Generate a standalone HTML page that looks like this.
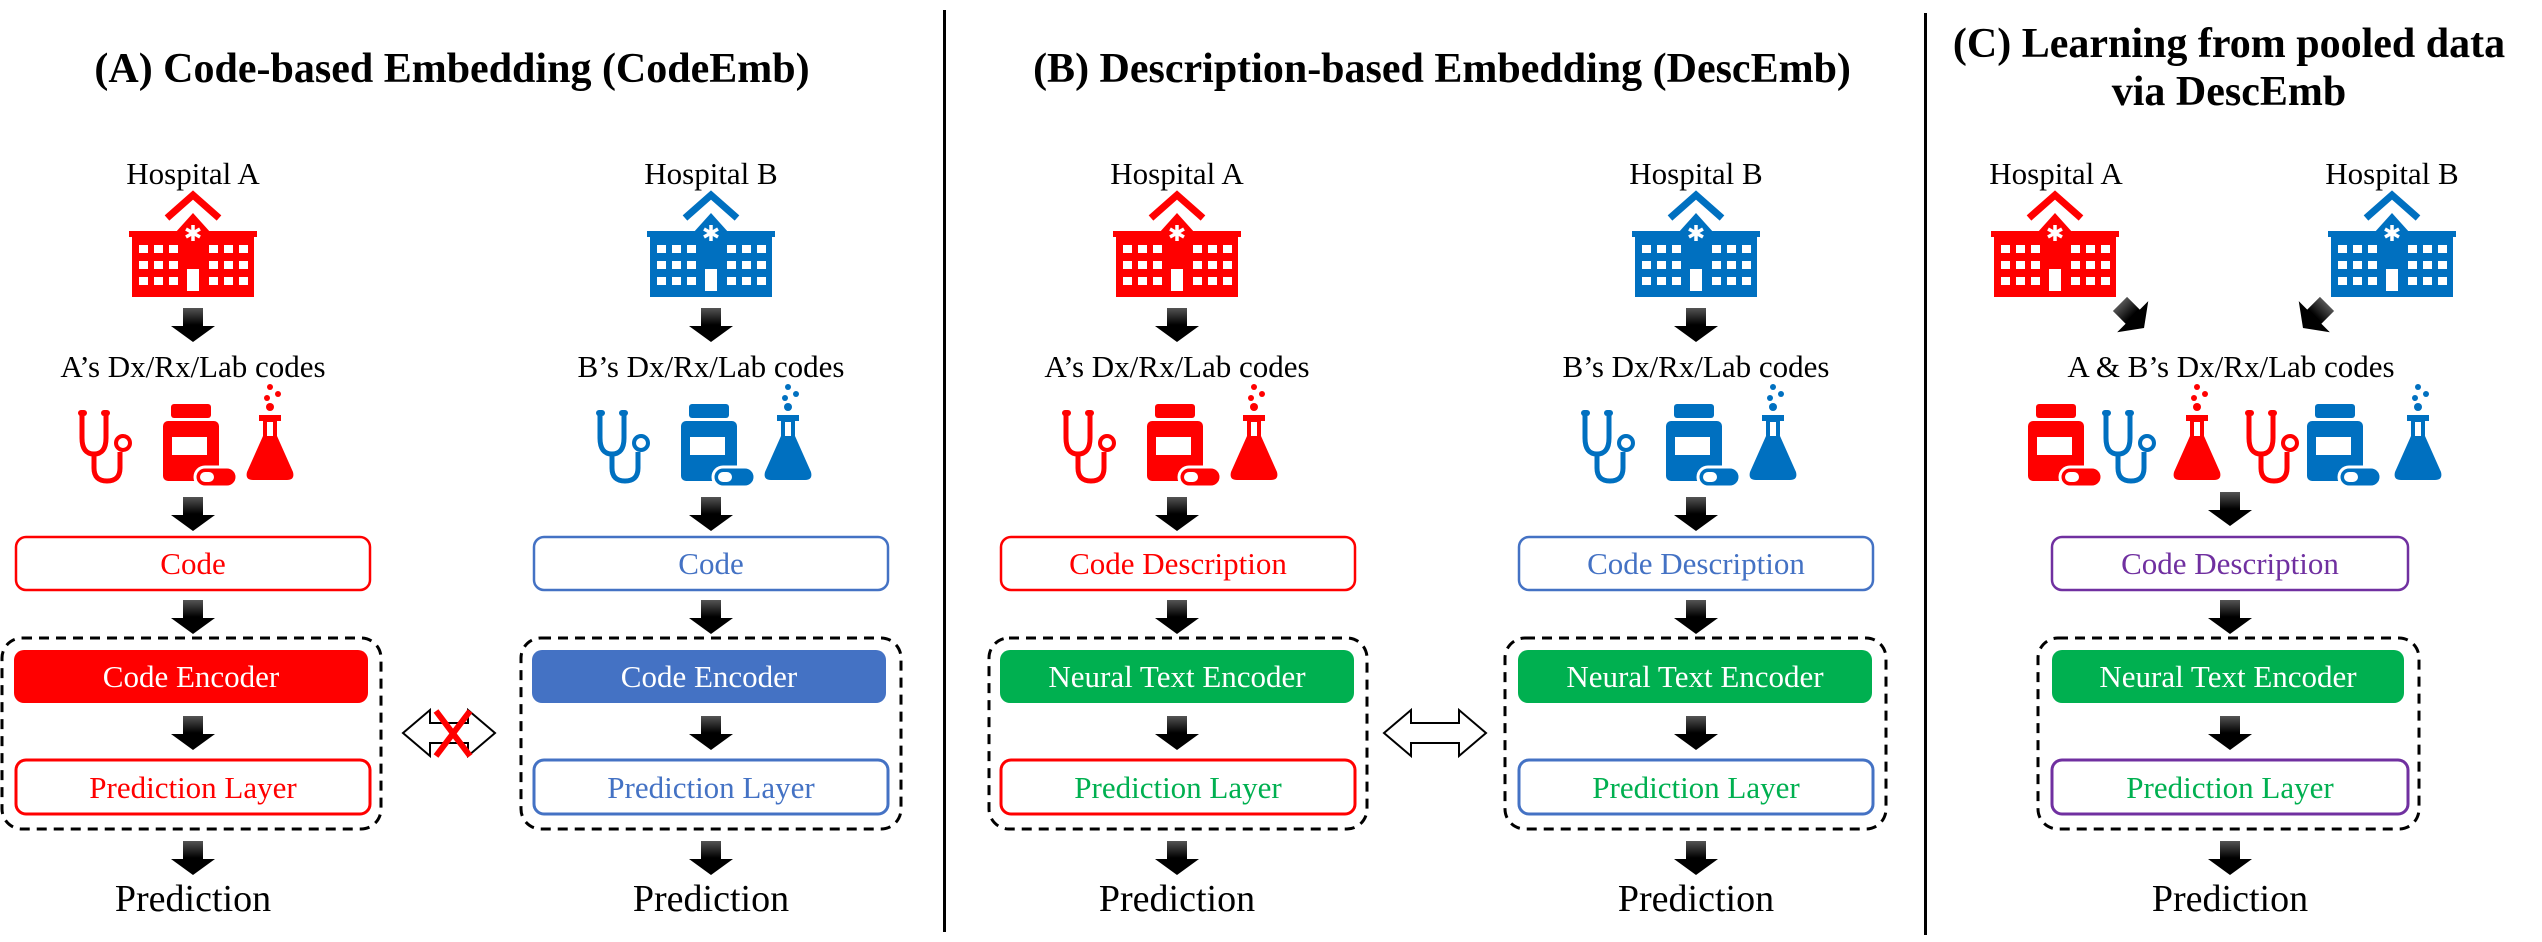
<!DOCTYPE html>
<html><head><meta charset="utf-8"><style>
html,body{margin:0;padding:0;background:#fff;}
svg{display:block;font-family:"Liberation Serif",serif;}
text{font-family:"Liberation Serif",serif;}
</style></head><body>
<svg width="2542" height="942" viewBox="0 0 2542 942" xmlns="http://www.w3.org/2000/svg">
<defs>
<linearGradient id="ag" x1="0" y1="0" x2="0" y2="1"><stop offset="0" stop-color="#555"/><stop offset="0.5" stop-color="#000"/><stop offset="1" stop-color="#000"/></linearGradient>
<g id="arr"><polygon points="-10,0 10,0 10,18 22,18 0,34 -22,18 -10,18" fill="url(#ag)"/></g>
<g id="hosp">
<polyline points="38,25 64,2 90,25" fill="none" stroke="currentColor" stroke-width="7"/>
<polygon points="46,40 64,20 82,40" fill="currentColor"/>
<rect x="0" y="38" width="128" height="6" fill="currentColor"/>
<rect x="3" y="43" width="122" height="61" fill="currentColor"/>
<g fill="#fff">
<rect x="10" y="52" width="9" height="8"/><rect x="25" y="52" width="9" height="8"/><rect x="40" y="52" width="9" height="8"/>
<rect x="80" y="52" width="9" height="8"/><rect x="95" y="52" width="9" height="8"/><rect x="110" y="52" width="9" height="8"/>
<rect x="10" y="68" width="9" height="8"/><rect x="25" y="68" width="9" height="8"/><rect x="40" y="68" width="9" height="8"/>
<rect x="80" y="68" width="9" height="8"/><rect x="95" y="68" width="9" height="8"/><rect x="110" y="68" width="9" height="8"/>
<rect x="10" y="84" width="9" height="8"/><rect x="25" y="84" width="9" height="8"/><rect x="40" y="84" width="9" height="8"/>
<rect x="80" y="84" width="9" height="8"/><rect x="95" y="84" width="9" height="8"/><rect x="110" y="84" width="9" height="8"/>
<rect x="58" y="76" width="12" height="22"/>
</g>
<g stroke="#fff" stroke-width="3.5"><line x1="64" y1="32" x2="64" y2="48"/><line x1="57" y1="36" x2="71" y2="44"/><line x1="57" y1="44" x2="71" y2="36"/></g>
</g>
<g id="steth">
<path d="M9,6 V30 Q9,46 21,46 Q33,46 33,30 V6" fill="none" stroke="currentColor" stroke-width="5"/>
<rect x="5" y="2" width="9" height="6" rx="3" fill="currentColor"/><rect x="28" y="2" width="9" height="6" rx="3" fill="currentColor"/>
<path d="M21,46 V60 Q21,73 34,73 Q47,73 47,60 V44" fill="none" stroke="currentColor" stroke-width="5"/>
<circle cx="50" cy="35" r="7" fill="none" stroke="currentColor" stroke-width="4"/>
</g>
<g id="bottle">
<rect x="8" y="0" width="40" height="14" rx="3" fill="currentColor"/>
<rect x="0" y="17" width="56" height="60" rx="5" fill="currentColor"/>
<rect x="9" y="33" width="35" height="18" fill="#fff"/>
<rect x="32" y="63" width="42" height="20" rx="10" fill="currentColor" stroke="#fff" stroke-width="3"/>
<rect x="37" y="68" width="14" height="10" rx="5" fill="#fff"/>
</g>
<g id="flask">
<circle cx="23" cy="3" r="3" fill="currentColor"/><circle cx="31" cy="10" r="3" fill="currentColor"/><circle cx="20" cy="14" r="3" fill="currentColor"/><circle cx="23" cy="23" r="4" fill="currentColor"/>
<path d="M12,31 H34 V37 H30 V52 L46,88 Q48,96 40,96 H6 Q-2,96 0,88 L16,52 V37 H12 Z" fill="currentColor"/>
<rect x="20" y="38" width="6" height="14" fill="#fff"/>
</g>
</defs>

<rect x="943" y="10" width="3" height="922" fill="#000"/>
<rect x="1924" y="13" width="3" height="922" fill="#000"/>

<g font-family="Liberation Serif, serif" font-weight="bold" font-size="42" text-anchor="middle" fill="#000">
<text x="452" y="82">(A) Code-based Embedding (CodeEmb)</text>
<text x="1442" y="82">(B) Description-based Embedding (DescEmb)</text>
<text x="2229" y="57">(C) Learning from pooled data</text>
<text x="2229" y="105">via DescEmb</text>
</g>

<g font-family="Liberation Serif, serif" font-size="31" text-anchor="middle" fill="#000">
<text x="193" y="184">Hospital A</text>
<text x="711" y="184">Hospital B</text>
<text x="1177" y="184">Hospital A</text>
<text x="1696" y="184">Hospital B</text>
<text x="2056" y="184">Hospital A</text>
<text x="2392" y="184">Hospital B</text>
<text x="193" y="377">A’s Dx/Rx/Lab codes</text>
<text x="711" y="377">B’s Dx/Rx/Lab codes</text>
<text x="1177" y="377">A’s Dx/Rx/Lab codes</text>
<text x="1696" y="377">B’s Dx/Rx/Lab codes</text>
<text x="2231" y="377">A &amp; B’s Dx/Rx/Lab codes</text>
</g>
<g font-family="Liberation Serif, serif" font-size="38" text-anchor="middle" fill="#000">
<text x="193" y="911">Prediction</text>
<text x="711" y="911">Prediction</text>
<text x="1177" y="911">Prediction</text>
<text x="1696" y="911">Prediction</text>
<text x="2230" y="911">Prediction</text>
</g>

<use href="#hosp" x="129" y="193" color="#FF0000"/>
<use href="#hosp" x="647" y="193" color="#0070C0"/>
<use href="#hosp" x="1113" y="193" color="#FF0000"/>
<use href="#hosp" x="1632" y="193" color="#0070C0"/>
<use href="#hosp" x="1991" y="193" color="#FF0000"/>
<use href="#hosp" x="2328" y="193" color="#0070C0"/>

<use href="#steth" x="73" y="408" color="#FF0000"/><use href="#bottle" x="163" y="404" color="#FF0000"/><use href="#flask" x="247" y="384" color="#FF0000"/>
<use href="#steth" x="591" y="408" color="#0070C0"/><use href="#bottle" x="681" y="404" color="#0070C0"/><use href="#flask" x="765" y="384" color="#0070C0"/>
<use href="#steth" x="1057" y="408" color="#FF0000"/><use href="#bottle" x="1147" y="404" color="#FF0000"/><use href="#flask" x="1231" y="384" color="#FF0000"/>
<use href="#steth" x="1576" y="408" color="#0070C0"/><use href="#bottle" x="1666" y="404" color="#0070C0"/><use href="#flask" x="1750" y="384" color="#0070C0"/>
<use href="#bottle" x="2028" y="404" color="#FF0000"/><use href="#steth" x="2097" y="408" color="#0070C0"/><use href="#flask" x="2174" y="384" color="#FF0000"/>
<use href="#steth" x="2240" y="408" color="#FF0000"/><use href="#bottle" x="2307" y="404" color="#0070C0"/><use href="#flask" x="2395" y="384" color="#0070C0"/>

<g>
<use href="#arr" x="193" y="308"/><use href="#arr" x="711" y="308"/><use href="#arr" x="1177" y="308"/><use href="#arr" x="1696" y="308"/>
<use href="#arr" x="193" y="497"/><use href="#arr" x="711" y="497"/><use href="#arr" x="1177" y="497"/><use href="#arr" x="1696" y="497"/><use href="#arr" x="2230" y="492"/>
<use href="#arr" x="193" y="600"/><use href="#arr" x="711" y="600"/><use href="#arr" x="1177" y="600"/><use href="#arr" x="1696" y="600"/><use href="#arr" x="2230" y="600"/>
<use href="#arr" x="193" y="716"/><use href="#arr" x="711" y="716"/><use href="#arr" x="1177" y="716"/><use href="#arr" x="1696" y="716"/><use href="#arr" x="2230" y="716"/>
<use href="#arr" x="193" y="841"/><use href="#arr" x="711" y="841"/><use href="#arr" x="1177" y="841"/><use href="#arr" x="1696" y="841"/><use href="#arr" x="2230" y="841"/>
<g transform="translate(2132,316) rotate(-45) translate(0,-17)"><use href="#arr"/></g>
<g transform="translate(2315,316) rotate(45) translate(0,-17)"><use href="#arr"/></g>
</g>

<g fill="none" stroke="#000" stroke-width="3" stroke-dasharray="10,7">
<rect x="2" y="638" width="379" height="191" rx="20"/>
<rect x="521" y="638" width="380" height="191" rx="20"/>
<rect x="989" y="638" width="378" height="191" rx="20"/>
<rect x="1505" y="638" width="381" height="191" rx="20"/>
<rect x="2038" y="638" width="381" height="191" rx="20"/>
</g>

<g stroke-width="2.5">
<rect x="16" y="537" width="354" height="53" rx="10" fill="#fff" stroke="#FF0000"/>
<rect x="534" y="537" width="354" height="53" rx="10" fill="#fff" stroke="#4472C4"/>
<rect x="1001" y="537" width="354" height="53" rx="10" fill="#fff" stroke="#FF0000"/>
<rect x="1519" y="537" width="354" height="53" rx="10" fill="#fff" stroke="#4472C4"/>
<rect x="2052" y="537" width="356" height="53" rx="10" fill="#fff" stroke="#7030A0"/>
<rect x="14" y="650" width="354" height="53" rx="10" fill="#FF0000" stroke="none"/>
<rect x="532" y="650" width="354" height="53" rx="10" fill="#4472C4" stroke="none"/>
<rect x="1000" y="650" width="354" height="53" rx="10" fill="#00B050" stroke="none"/>
<rect x="1518" y="650" width="354" height="53" rx="10" fill="#00B050" stroke="none"/>
<rect x="2052" y="650" width="352" height="53" rx="10" fill="#00B050" stroke="none"/>
<rect x="16" y="760" width="354" height="54" rx="10" fill="#fff" stroke="#FF0000" stroke-width="3"/>
<rect x="534" y="760" width="354" height="54" rx="10" fill="#fff" stroke="#4472C4" stroke-width="3"/>
<rect x="1001" y="760" width="354" height="54" rx="10" fill="#fff" stroke="#FF0000" stroke-width="3"/>
<rect x="1519" y="760" width="354" height="54" rx="10" fill="#fff" stroke="#4472C4" stroke-width="3"/>
<rect x="2052" y="760" width="356" height="54" rx="10" fill="#fff" stroke="#7030A0" stroke-width="3"/>
</g>
<g font-family="Liberation Serif, serif" font-size="31" text-anchor="middle">
<text x="193" y="574" fill="#FF0000">Code</text>
<text x="711" y="574" fill="#4472C4">Code</text>
<text x="1178" y="574" fill="#FF0000">Code Description</text>
<text x="1696" y="574" fill="#4472C4">Code Description</text>
<text x="2230" y="574" fill="#7030A0">Code Description</text>
<text x="191" y="687" fill="#fff">Code Encoder</text>
<text x="709" y="687" fill="#fff">Code Encoder</text>
<text x="1177" y="687" fill="#fff">Neural Text Encoder</text>
<text x="1695" y="687" fill="#fff">Neural Text Encoder</text>
<text x="2228" y="687" fill="#fff">Neural Text Encoder</text>
<text x="193" y="798" fill="#FF0000">Prediction Layer</text>
<text x="711" y="798" fill="#4472C4">Prediction Layer</text>
<text x="1178" y="798" fill="#00B050">Prediction Layer</text>
<text x="1696" y="798" fill="#00B050">Prediction Layer</text>
<text x="2230" y="798" fill="#00B050">Prediction Layer</text>
</g>

<polygon points="403,733 430,710 430,723 468,723 468,710 495,733 468,756 468,743 430,743 430,756" fill="#fff" stroke="#000" stroke-width="2"/>
<g stroke="#FF0000" stroke-width="6"><line x1="436" y1="711" x2="470" y2="756"/><line x1="470" y1="711" x2="436" y2="756"/></g>
<polygon points="1384,733 1411,710 1411,723 1459,723 1459,710 1486,733 1459,756 1459,743 1411,743 1411,756" fill="#fff" stroke="#000" stroke-width="2"/>
</svg>
</body></html>
